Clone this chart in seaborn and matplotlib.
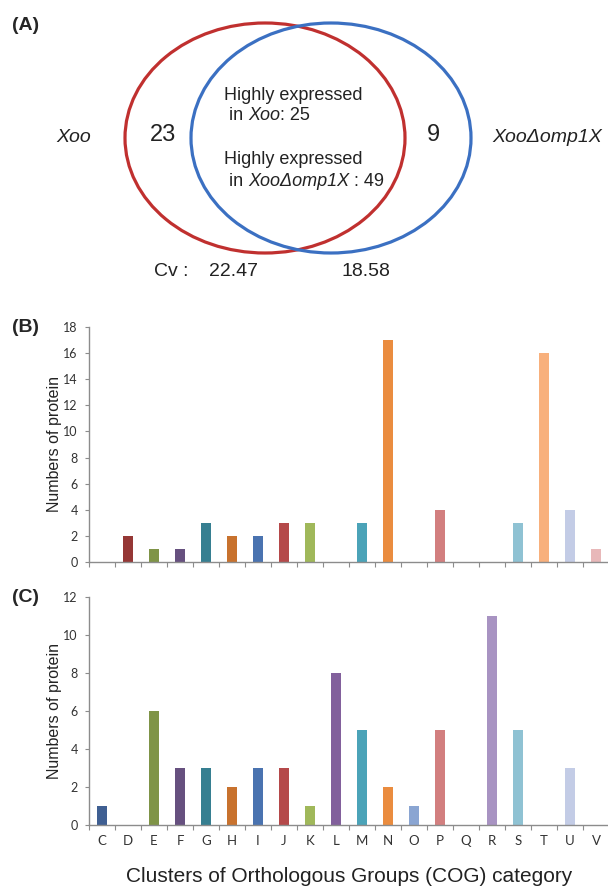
import matplotlib
matplotlib.use("Agg")
import matplotlib.pyplot as plt
from matplotlib.patches import Ellipse
import seaborn as sns

import numpy as np
import pandas as pd

# COG categories and protein counts
CATEGORIES = list("CDEFGHIJKLMNOPQRSTUV")
COUNTS_B = [0, 2, 1, 1, 3, 2, 2, 3, 3, 0, 3, 17, 0, 4, 0, 0, 3, 16, 4, 1]
COUNTS_C = [1, 0, 6, 3, 3, 2, 3, 3, 1, 8, 5, 2, 1, 5, 0, 11, 5, 0, 3, 0]

COLORS = [
    "#3f5f92", "#953735", "#7f9447", "#66507f", "#367f91",
    "#c8722e", "#4a73b0", "#b5494a", "#a0b85a", "#82609c",
    "#4ba3b8", "#ea8c3f", "#8aa5d2", "#d27f7f", "#cccccc",
    "#a893c2", "#8fc2d3", "#f8b07c", "#c3cce6", "#e8b8b9",
]

# Venn numbers
ONLY_XOO = 23
ONLY_MUTANT = 9
HIGH_XOO = 25
HIGH_MUTANT = 49
CV_XOO = 22.47
CV_MUTANT = 18.58

W, H = 608, 888
DPI = 100

sns.set_theme(style="white")
plt.rcParams["font.family"] = ["Liberation Sans", "DejaVu Sans"]

fig = plt.figure(figsize=(W / DPI, H / DPI), dpi=DPI)
palette = dict(zip(CATEGORIES, COLORS))
spine_color = "#8c8c8c"
text_color = "#222222"


def px_axes(left, top, right, bottom):
    return fig.add_axes([left / W, 1 - bottom / H, (right - left) / W, (bottom - top) / H])


def chain(ax, x, y, parts, fontsize):
    # write a line made of plain and italic pieces, one after the other
    prev = None
    for txt, italic in parts:
        style = "italic" if italic else "normal"
        if prev is None:
            prev = ax.text(x, y, txt, ha="left", va="center", fontsize=fontsize,
                           style=style, color=text_color)
        else:
            prev = ax.annotate(txt, xy=(1, 0), xycoords=prev, ha="left", va="bottom",
                               fontsize=fontsize, style=style, color=text_color)


# ---- (A) Venn diagram, drawn in pixel coordinates of the top strip
ax_a = px_axes(0, 0, W, 300)
ax_a.set_xlim(0, W)
ax_a.set_ylim(300, 0)
ax_a.axis("off")
ax_a.add_patch(Ellipse((265, 138), 280, 230, fill=False, ec="#c0302f", lw=2.3))
ax_a.add_patch(Ellipse((331, 138), 280, 230, fill=False, ec="#3b70c2", lw=2.3))

kw = dict(va="center", color=text_color)
ax_a.text(74, 138, "Xoo", ha="center", fontsize=14, style="italic", **kw)
ax_a.text(492, 138, "Xoo\u0394omp1X", ha="left", fontsize=14, style="italic", **kw)
ax_a.text(163, 135, str(ONLY_XOO), ha="center", fontsize=17, **kw)
ax_a.text(433, 135, str(ONLY_MUTANT), ha="center", fontsize=17, **kw)
ax_a.text(224, 95, "Highly expressed", ha="left", fontsize=13, **kw)
chain(ax_a, 224, 116, [(" in ", False), ("Xoo", True), (f": {HIGH_XOO}", False)], 13)
ax_a.text(224, 159, "Highly expressed", ha="left", fontsize=13, **kw)
chain(ax_a, 224, 181, [(" in ", False), ("Xoo\u0394omp1X", True), (f" : {HIGH_MUTANT}", False)], 13)
ax_a.text(154, 271, "Cv :", ha="left", fontsize=14, **kw)
ax_a.text(233, 271, f"{CV_XOO:.2f}", ha="center", fontsize=14, **kw)
ax_a.text(366, 271, f"{CV_MUTANT:.2f}", ha="center", fontsize=14, **kw)


def cog_bars(ax, counts, ymax, show_labels):
    data = pd.DataFrame({"category": CATEGORIES, "count": counts})
    sns.barplot(
        data=data, x="category", y="count", hue="category", palette=palette,
        order=CATEGORIES, hue_order=CATEGORIES, width=0.41, saturation=1,
        linewidth=0, legend=False, ax=ax,
    )
    ax.set_xlim(-0.5, len(CATEGORIES) - 0.5)
    ax.set_ylim(0, ymax)
    ax.set_yticks(np.arange(0, ymax + 1, 2))
    ax.set_xticks(np.arange(-0.5, len(CATEGORIES), 1))
    ax.set_xticklabels([])
    ax.set_xticks(np.arange(len(CATEGORIES)), minor=True)
    ax.set_xticklabels(CATEGORIES if show_labels else [], minor=True)
    ax.tick_params(axis="x", which="major", length=3.5, width=0.8, color=spine_color, direction="out", bottom=True)
    ax.tick_params(axis="x", which="minor", length=0, pad=7, labelsize=9.5, labelcolor="#333333")
    ax.tick_params(axis="y", length=3, width=0.8, color=spine_color, direction="out", left=True,
                   pad=5, labelsize=9, labelcolor="#333333")
    for lab in ax.get_xticklabels(minor=True) + ax.get_yticklabels():
        lab.set_family(["Lato", "DejaVu Sans"])
    for side in ["top", "right"]:
        ax.spines[side].set_visible(False)
    for side in ["left", "bottom"]:
        ax.spines[side].set_color(spine_color)
        ax.spines[side].set_linewidth(1.0)
    ax.set_ylabel("Numbers of protein", fontsize=11.5, color=text_color)
    ax.yaxis.label.set_va("center")
    ax.yaxis.set_label_coords(-34 / 520, 0.5)
    ax.set_xlabel("")


# ---- (B)
ax_b = px_axes(89, 327, 609, 562)
cog_bars(ax_b, COUNTS_B, 18, False)

# ---- (C)
ax_c = px_axes(89, 597, 609, 825)
cog_bars(ax_c, COUNTS_C, 12, True)
ax_c.set_xlabel("Clusters of Orthologous Groups (COG) category", fontsize=15, color=text_color)
ax_c.xaxis.label.set_va("center")
ax_c.xaxis.set_label_coords(0.5, -(876 - 825) / 228)

# panel letters
for label, y in [("(A)", 25), ("(B)", 327), ("(C)", 598)]:
    fig.text(12 / W, 1 - y / H, label, fontsize=14, fontweight="bold", va="center", ha="left")

fig.savefig("out.png", dpi=DPI)
